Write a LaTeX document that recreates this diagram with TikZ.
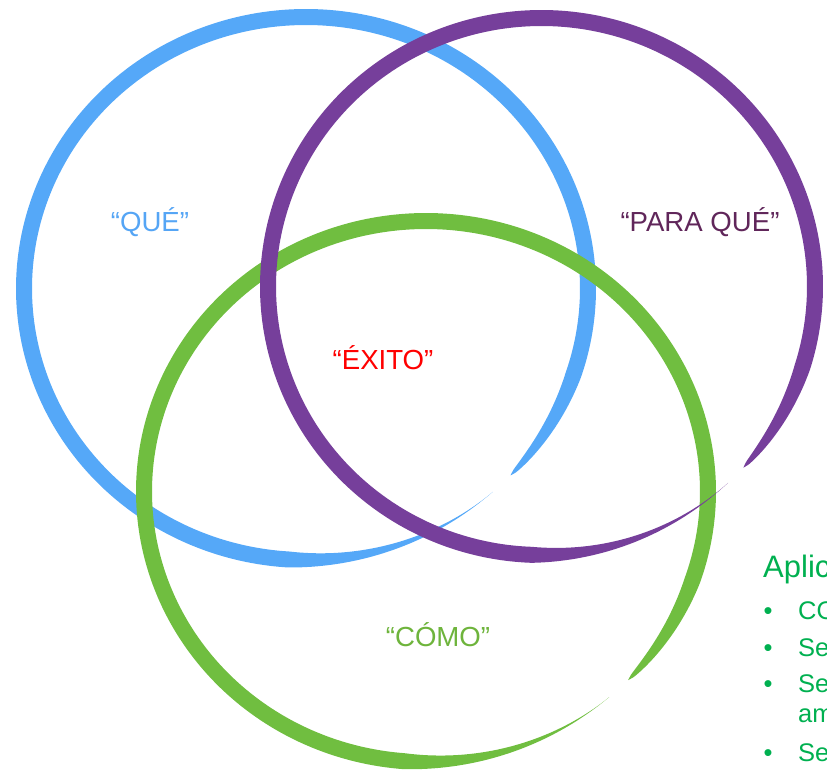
\documentclass[tikz,border=0pt]{standalone}
\usepackage{fontspec}
\setmainfont{Liberation Sans}
\definecolor{cblue}{RGB}{85,168,248}
\definecolor{cpurple}{RGB}{118,63,155}
\definecolor{cgreen}{RGB}{112,190,64}
\definecolor{tblue}{RGB}{85,165,245}
\definecolor{tpurple}{RGB}{96,38,90}
\definecolor{tgreen}{RGB}{110,180,60}
\definecolor{lgreen}{RGB}{0,176,80}
\newcommand\vennbrush[7]{% colour, cx, cy, rx, ry, start angle, sweep
  \fill[#1] plot[domain=0:#7, samples=300, variable=\s, smooth]
    ({#2+(#4+0.5*bw(\s,#7))*cos(#6-\s)}, {#3-(#5+0.5*bw(\s,#7))*sin(#6-\s)})
    -- plot[domain=#7:0, samples=300, variable=\s, smooth]
    ({#2+(#4-0.5*bw(\s,#7))*cos(#6-\s)}, {#3-(#5-0.5*bw(\s,#7))*sin(#6-\s)}) -- cycle;}
\tikzset{
  declare function={bw(\s,\L)=16*min(1,\s/45)*sqrt(min(1,\s/45))*sqrt(max(0,min(1,(\L-\s)/25)));},
  lbl/.style={anchor=base, inner sep=0pt, font=\fontsize{27.6}{32}\selectfont},
  listhead/.style={anchor=base west, inner sep=0pt, text=lgreen, font=\fontsize{31}{36}\selectfont},
  listitem/.style={anchor=base west, inner sep=0pt, text=lgreen, font=\fontsize{25.5}{30}\selectfont},
  listbullet/.style={anchor=base, inner sep=0pt, text=lgreen, font=\fontsize{25.5}{30}\selectfont},
}
\begin{document}
\begin{tikzpicture}[x=1pt,y=-1pt]
\useasboundingbox (0,0) rectangle (827,770);
\clip (0,0) rectangle (827,770);
% brush-stroke circles
\vennbrush{cblue}{306}{288.5}{282}{271.5}{-48.5}{355}
\vennbrush{cgreen}{426}{491.5}{282}{270.5}{-49.5}{354.7}
\vennbrush{cpurple}{541.5}{286.5}{273.5}{268.5}{-47}{355.4}
% labels
\node[lbl, text=tblue] (que) at (150,231) {“QUÉ”};
\node[lbl, text=tpurple] (paraque) at (700,231) {“PARA QUÉ”};
\node[lbl, text=red] (exito) at (383,369) {“ÉXITO”};
\node[lbl, text=tgreen] (como) at (438,646) {“CÓMO”};
% cut-off list at the bottom right
\node[listhead] (aplic) at (763,577) {Aplic};
\node[listbullet] (b1) at (768,619) {•};
\node[listitem] (i1) at (798,619) {CO};
\node[listbullet] (b2) at (768,656) {•};
\node[listitem] (i2) at (798,656) {Se};
\node[listbullet] (b3) at (768,692) {•};
\node[listitem] (i3) at (798,692) {Se};
\node[listitem] (i3b) at (798,722) {am};
\node[listbullet] (b4) at (768,761) {•};
\node[listitem] (i4) at (798,761) {Se};
\end{tikzpicture}
\end{document}
